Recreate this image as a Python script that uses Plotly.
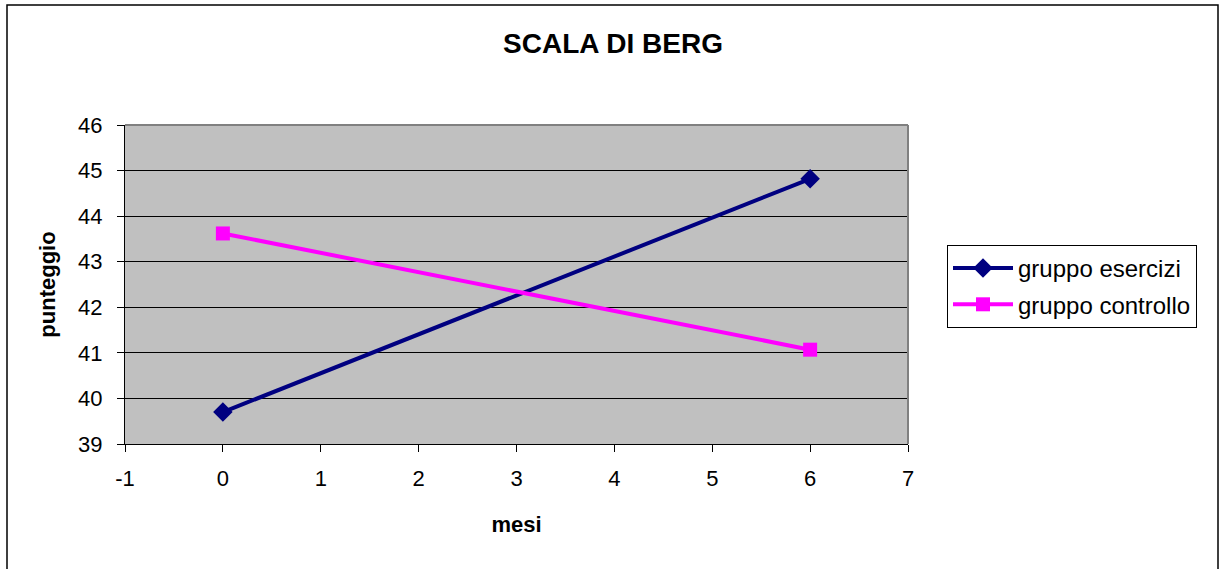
import plotly.graph_objects as go

# Berg Balance Scale scores over time
mesi = [0, 6]
esercizi = [39.70, 44.82]
controllo = [43.62, 41.07]

x_ticks = [-1, 0, 1, 2, 3, 4, 5, 6, 7]
x_labels = ["-1", "0", "1", "2", "3", "4", "5", "6", "7"]
y_ticks = [39, 40, 41, 42, 43, 44, 45, 46]

FONT = "Liberation Sans, Arial, sans-serif"

fig = go.Figure()
fig.add_trace(go.Scatter(
    x=mesi, y=esercizi, name="gruppo esercizi", mode="lines+markers",
    legendgroup="a",
    line=dict(color="#000080", width=4),
    marker=dict(symbol="diamond", size=15, color="#000080"),
))
fig.add_trace(go.Scatter(
    x=mesi, y=controllo, name="gruppo controllo", mode="lines+markers",
    legendgroup="b",
    line=dict(color="#FF00FF", width=4),
    marker=dict(symbol="square", size=14, color="#FF00FF"),
))

fig.update_layout(
    width=1226, height=569,
    margin=dict(l=125, r=318, t=125, b=125),
    paper_bgcolor="white",
    plot_bgcolor="#C0C0C0",
    font=dict(family=FONT, size=21, color="black"),
    title=dict(text="<b>SCALA DI BERG</b>", x=613 / 1226, xanchor="center",
               y=1 - 43 / 569, yanchor="middle",
               font=dict(family=FONT, size=28, color="black")),
    xaxis=dict(range=[-1, 7], tickvals=x_ticks, ticktext=x_labels,
               ticks="outside", ticklen=7, tickfont=dict(size=22),
               ticklabelstandoff=8,
               tickcolor="black", showgrid=False, zeroline=False,
               showline=True, linecolor="black", linewidth=1,
               title=dict(text="<b>mesi</b>", font=dict(size=22), standoff=26)),
    yaxis=dict(range=[39, 46], tickvals=y_ticks, ticks="outside", ticklen=7,
               tickfont=dict(size=22), ticklabelstandoff=10,
               tickcolor="black", showgrid=True, gridcolor="black", gridwidth=1,
               zeroline=False, showline=True, linecolor="black", linewidth=1,
               title=dict(text="<b>punteggio</b>", font=dict(size=22), standoff=16)),
    legend=dict(x=(947 - 125) / 783, xanchor="left",
                y=(444 - 245) / 319, yanchor="top",
                bordercolor="black", borderwidth=1, bgcolor="white",
                font=dict(size=24), tracegroupgap=2, itemwidth=60),
    showlegend=True,
    shapes=[
        # grey frame on top and right of plot area
        dict(type="line", xref="paper", yref="paper", x0=0, x1=1, y0=1, y1=1,
             line=dict(color="#808080", width=2)),
        dict(type="line", xref="paper", yref="paper", x0=1, x1=1, y0=0, y1=1,
             line=dict(color="#808080", width=2)),
        # chart outer frame
        dict(type="rect", xref="paper", yref="paper",
             x0=(7 - 125) / 783, x1=(1218 - 125) / 783,
             y0=(444 - 590) / 319, y1=(444 - 5) / 319,
             line=dict(color="black", width=1.5), layer="below"),
    ],
)

fig.write_html("out.html")
